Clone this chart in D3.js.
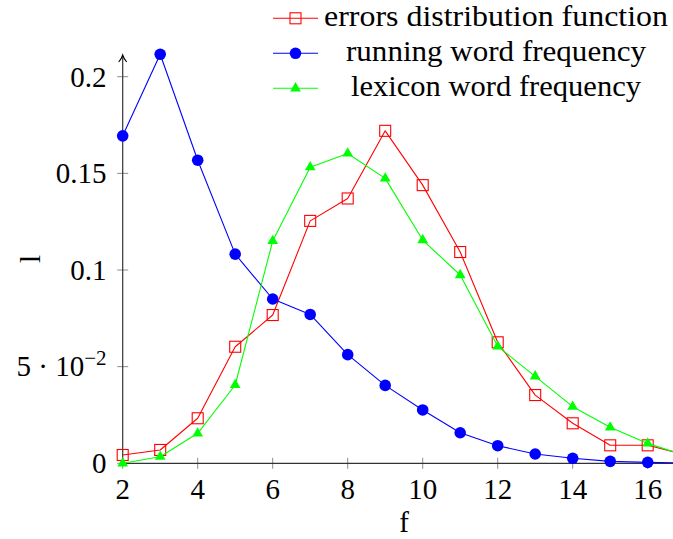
<!DOCTYPE html>
<html>
<head>
<meta charset="utf-8">
<script src="https://cdn.jsdelivr.net/npm/d3@7"></script>
<style>
  html, body { margin: 0; padding: 0; background: #fff; }
  svg { display: block; }
</style>
</head>
<body>
<svg id="chart" width="673" height="539"></svg>
<script>
// ---- data ----
const fValues = [2, 3, 4, 5, 6, 7, 8, 9, 10, 11, 12, 13, 14, 15, 16, 17];
const errorsDist = [0.0043, 0.0069, 0.0233, 0.0603, 0.0767, 0.1254, 0.137, 0.172, 0.1439, 0.1093, 0.0626, 0.0353, 0.0207, 0.0093, 0.0093, 0.0045];
const runningFreq = [0.1694, 0.2116, 0.1568, 0.1082, 0.0850, 0.0770, 0.0562, 0.0403, 0.0276, 0.0158, 0.0091, 0.0048, 0.0026, 0.0010, 0.0005, 0.0002];
const lexiconFreq = [0.0, 0.0034, 0.0155, 0.0405, 0.1150, 0.1532, 0.1603, 0.1474, 0.1155, 0.0974, 0.0605, 0.0450, 0.0293, 0.0186, 0.0103, 0.0040];
const seriesNames = ["errors distribution function", "running word frequency", "lexicon word frequency"];
const xTicks = [2, 4, 6, 8, 10, 12, 14, 16];
const yTicks = [0, 0.05, 0.1, 0.15, 0.2];
const xLabel = "f";
const yLabel = "l";

const FONT = '"Liberation Serif", "Times New Roman", serif';
const FS = 29;

const svg = d3.select("#chart");
const x = d3.scaleLinear().domain([2, 17]).range([122.7, 685.2]);
const y = d3.scaleLinear().domain([0, 0.2]).range([463.3, 76.7]);

const tickColor = "#8c8c8c";
const axisColor = "#333";

function txt(sel) {
  return sel.append("text").style("font-family", FONT).attr("font-size", FS).attr("fill", "#000");
}

const g = svg.append("g");
// x axis ticks
xTicks.forEach(t => {
  g.append("line").attr("x1", x(t)).attr("x2", x(t)).attr("y1", y(0) - 5.5).attr("y2", y(0) + 5.5)
    .attr("stroke", tickColor).attr("stroke-width", 1);
  txt(g).attr("x", x(t)).attr("y", 498.5).attr("text-anchor", "middle").text(t);
});
// y axis ticks
yTicks.forEach(t => {
  g.append("line").attr("x1", x(2) - 5.5).attr("x2", x(2) + 5.5).attr("y1", y(t)).attr("y2", y(t))
    .attr("stroke", tickColor).attr("stroke-width", 1);
  const tx = txt(g).attr("x", 106.5).attr("y", y(t) + 9.8).attr("text-anchor", "end");
  if (t === 0.05) {
    tx.append("tspan").text("5 · 10");
    tx.append("tspan").attr("dy", -11.5).attr("font-size", 21).text("−2");
  } else {
    tx.text(d3.format("~g")(t));
  }
});

// axis lines
g.append("line").attr("x1", x(2)).attr("x2", 673).attr("y1", y(0)).attr("y2", y(0))
  .attr("stroke", axisColor).attr("stroke-width", 1.2);
g.append("line").attr("x1", x(2)).attr("x2", x(2)).attr("y1", y(0)).attr("y2", 56)
  .attr("stroke", axisColor).attr("stroke-width", 1.2);
g.append("path")
  .attr("d", `M${x(2) - 4},${62} Q${x(2) - 1},${58.5} ${x(2)},${55} Q${x(2) + 1},${58.5} ${x(2) + 4},${62}`)
  .attr("fill", "none").attr("stroke", "#000").attr("stroke-width", 1.1);

// axis labels
txt(svg).attr("x", 404).attr("y", 532).attr("text-anchor", "middle").text(xLabel);
txt(svg).attr("transform", "translate(40,259) rotate(-90)").attr("text-anchor", "middle").text(yLabel);

// series
const series = [
  { name: seriesNames[0], values: errorsDist, color: "#ff0000", marker: "square", width: 344 },
  { name: seriesNames[1], values: runningFreq, color: "#0000ff", marker: "circle", width: 300 },
  { name: seriesNames[2], values: lexiconFreq, color: "#00ff00", marker: "triangle", width: 290 }
];

function drawMarker(sel, type, color, cx, cy) {
  if (type === "square") {
    sel.append("rect").attr("x", cx - 5.5).attr("y", cy - 5.5).attr("width", 11).attr("height", 11)
      .attr("fill", "none").attr("stroke", color).attr("stroke-width", 1.1);
  } else if (type === "circle") {
    sel.append("circle").attr("cx", cx).attr("cy", cy).attr("r", 5.8).attr("fill", color);
  } else {
    const r = 6.2;
    sel.append("path")
      .attr("d", `M${cx},${cy - r} L${cx + 0.866 * r},${cy + 0.5 * r} L${cx - 0.866 * r},${cy + 0.5 * r}Z`)
      .attr("fill", color);
  }
}

const line = d3.line().x((d, i) => x(fValues[i])).y(d => y(d));
series.forEach(s => {
  const sg = svg.append("g");
  sg.append("path").attr("d", line(s.values)).attr("fill", "none")
    .attr("stroke", s.color).attr("stroke-width", 1.1).attr("stroke-linejoin", "round");
  s.values.forEach((v, i) => drawMarker(sg, s.marker, s.color, x(fValues[i]), y(v)));
});

// legend
const legendY = [18.3, 53.3, 88.3];
series.forEach((s, i) => {
  const lg = svg.append("g");
  lg.append("line").attr("x1", 273).attr("x2", 318).attr("y1", legendY[i]).attr("y2", legendY[i])
    .attr("stroke", s.color).attr("stroke-width", 1.1);
  drawMarker(lg, s.marker, s.color, 295.5, legendY[i]);
  txt(lg).attr("x", 496).attr("y", legendY[i] + 8).attr("text-anchor", "middle")
    .attr("textLength", s.width).attr("lengthAdjust", "spacingAndGlyphs").text(s.name);
});
</script>
</body>
</html>
